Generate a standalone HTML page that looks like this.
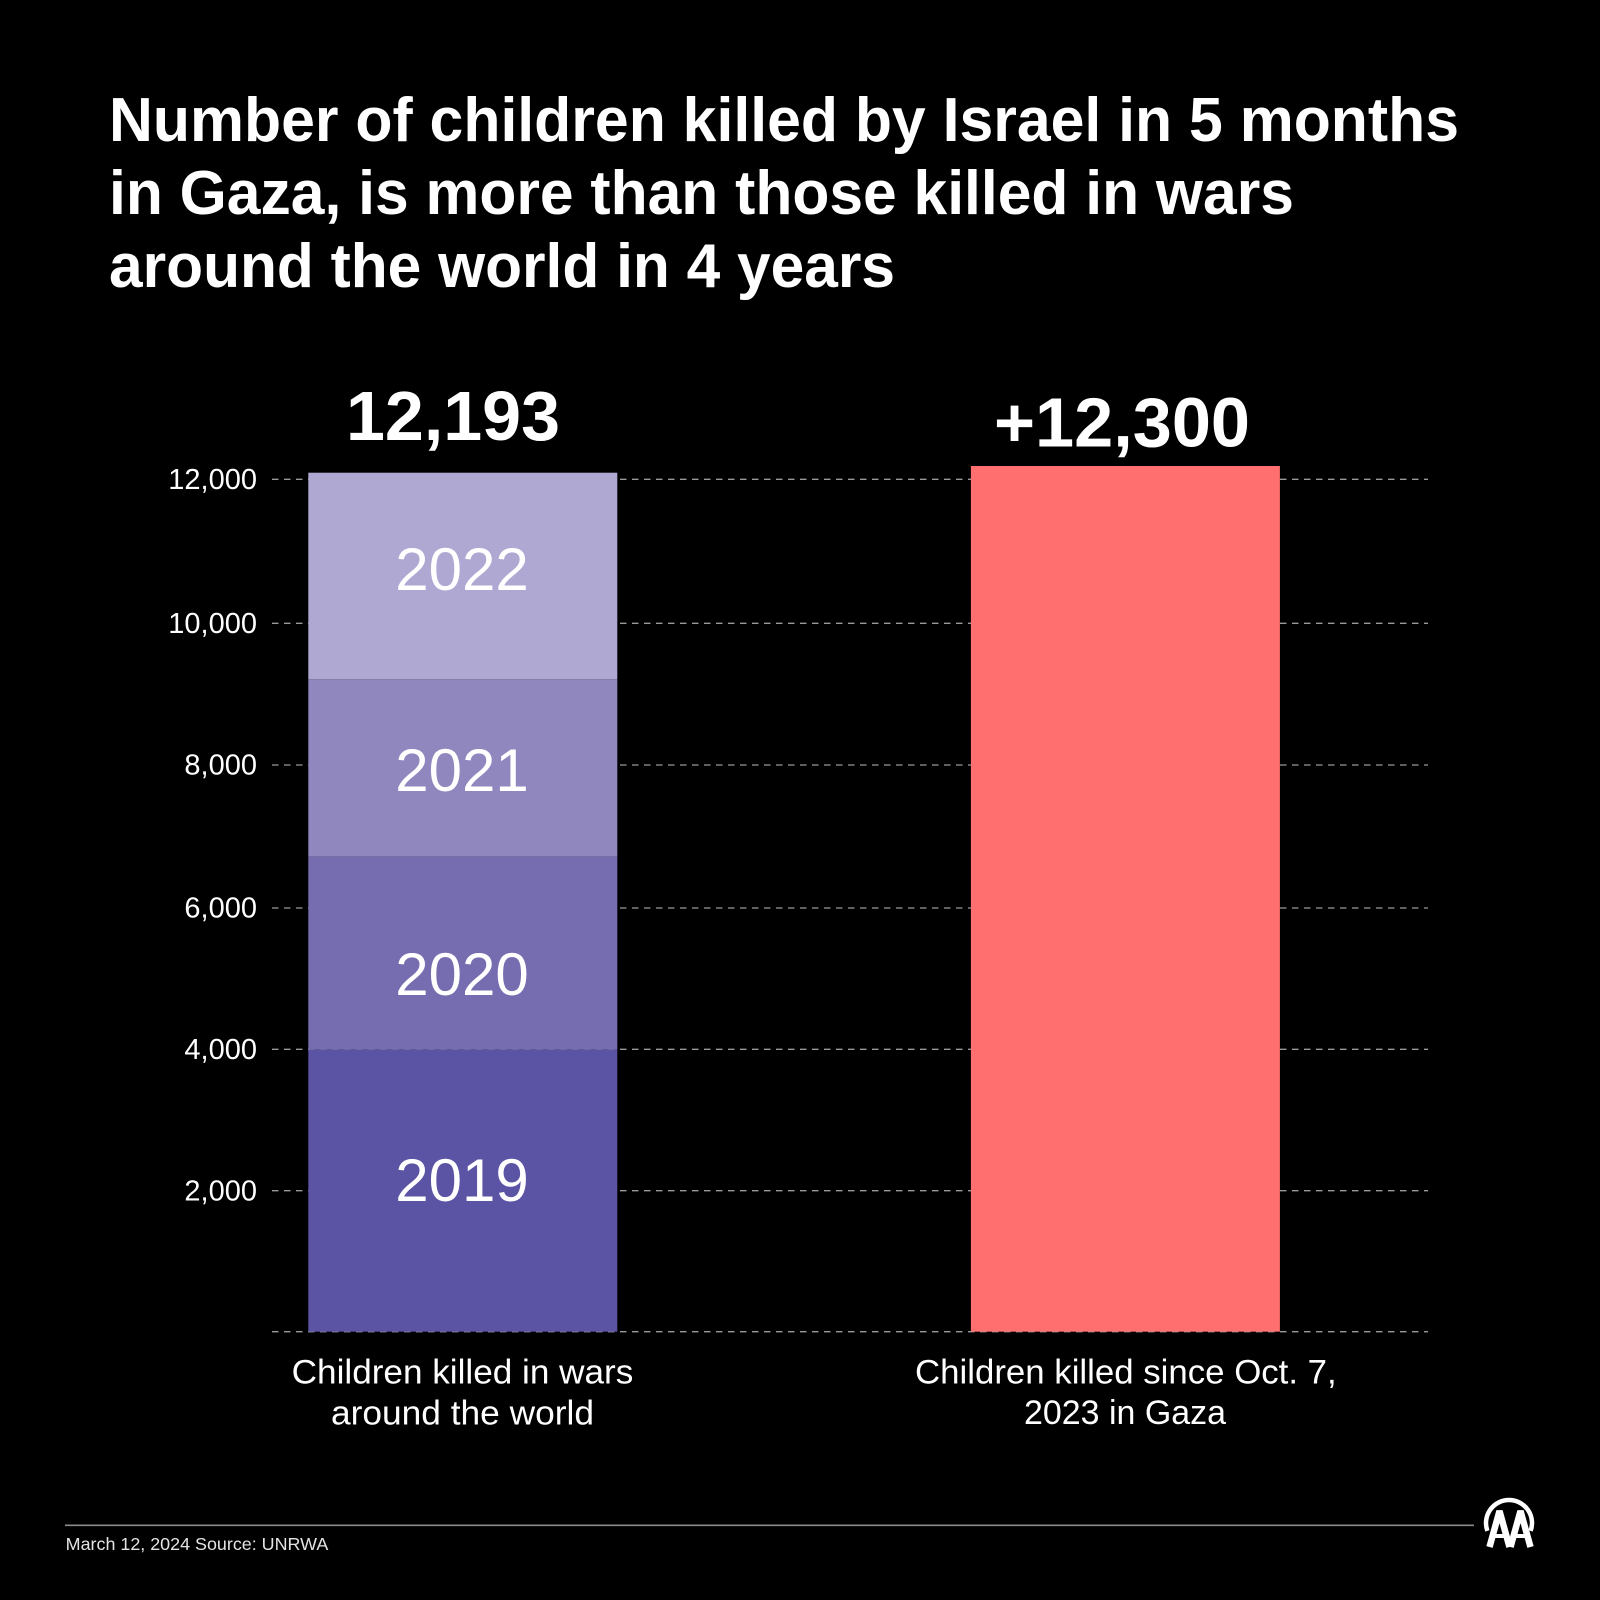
<!DOCTYPE html>
<html>
<head>
<meta charset="utf-8">
<style>
  html, body { margin:0; padding:0; background:#000; }
  body { width:1600px; height:1600px; overflow:hidden; }
  svg { display:block; }
  text { font-family: "Liberation Sans", Arial, sans-serif; }
</style>
</head>
<body>
<svg width="1600" height="1600" viewBox="0 0 1600 1600" xmlns="http://www.w3.org/2000/svg">
  <rect x="0" y="0" width="1600" height="1600" fill="#000"/>

  <!-- Title -->
  <g fill="#fff" font-weight="bold" font-size="62">
    <text x="109" y="141" textLength="1350" lengthAdjust="spacingAndGlyphs">Number of children killed by Israel in 5 months</text>
    <text x="109" y="214" textLength="1185" lengthAdjust="spacingAndGlyphs">in Gaza, is more than those killed in wars</text>
    <text x="109" y="287" textLength="786" lengthAdjust="spacingAndGlyphs">around the world in 4 years</text>
  </g>

  <!-- Gridlines -->
  <g stroke="#9a9a9a" stroke-width="1.3" stroke-dasharray="6.5 5.5" fill="none">
    <line x1="272" y1="479.3" x2="1428" y2="479.3"/>
    <line x1="272" y1="623.3" x2="1428" y2="623.3"/>
    <line x1="272" y1="765" x2="1428" y2="765"/>
    <line x1="272" y1="908" x2="1428" y2="908"/>
    <line x1="272" y1="1049.3" x2="1428" y2="1049.3"/>
    <line x1="272" y1="1190.7" x2="1428" y2="1190.7"/>
    <line x1="272" y1="1331.7" x2="1428" y2="1331.7"/>
  </g>

  <!-- Axis labels -->
  <g fill="#fff" font-size="29" text-anchor="end">
    <text x="257" y="489">12,000</text>
    <text x="257" y="633">10,000</text>
    <text x="257" y="774.5">8,000</text>
    <text x="257" y="917.5">6,000</text>
    <text x="257" y="1059">4,000</text>
    <text x="257" y="1200.5">2,000</text>
  </g>

  <!-- Left stacked bar -->
  <rect x="308.3" y="472.7" width="309" height="206.6" fill="#AFA8D2"/>
  <rect x="308.3" y="679.3" width="309" height="177.4" fill="#8F87BE"/>
  <rect x="308.3" y="856.7" width="309" height="193" fill="#766DB0"/>
  <rect x="308.3" y="1049.7" width="309" height="282" fill="#5B53A3"/>

  <!-- Right bar -->
  <rect x="970.9" y="466" width="309" height="865.7" fill="#FF6F6F"/>

  <!-- Year labels -->
  <g fill="#fff" font-size="60" text-anchor="middle">
    <text x="462" y="590">2022</text>
    <text x="462" y="791">2021</text>
    <text x="462" y="995">2020</text>
    <text x="462" y="1201">2019</text>
  </g>

  <!-- Values -->
  <g fill="#fff" font-weight="bold" font-size="70">
    <text x="346" y="440" textLength="214" lengthAdjust="spacingAndGlyphs">12,193</text>
    <text x="994" y="446.5" textLength="256" lengthAdjust="spacingAndGlyphs">+12,300</text>
  </g>

  <!-- Category labels -->
  <g fill="#fff" font-size="34">
    <text x="291.7" y="1383.3" textLength="341.6" lengthAdjust="spacingAndGlyphs">Children killed in wars</text>
    <text x="331" y="1424.5" textLength="263" lengthAdjust="spacingAndGlyphs">around the world</text>
    <text x="915" y="1383.3" textLength="421.7" lengthAdjust="spacingAndGlyphs">Children killed since Oct. 7,</text>
    <text x="1024" y="1424" textLength="202" lengthAdjust="spacingAndGlyphs">2023 in Gaza</text>
  </g>

  <!-- Footer -->
  <line x1="65" y1="1525.3" x2="1474" y2="1525.3" stroke="#8a8a8a" stroke-width="1.6"/>
  <text x="65.7" y="1550" fill="#e4e4e4" font-size="17.5" textLength="262.6" lengthAdjust="spacingAndGlyphs">March 12, 2024 Source: UNRWA</text>

  <!-- AA logo -->
  <g fill="none" stroke="#fff">
    <path d="M1487.4 1530.9 A23 23 0 1 1 1530.6 1530.9" stroke-width="4.5"/>
    <polyline points="1489.5,1547 1499.5,1511 1509.5,1547" stroke-width="6.5" stroke-linejoin="bevel"/>
    <polyline points="1510.5,1547 1520.5,1511 1530.5,1547" stroke-width="6.5" stroke-linejoin="bevel"/>
    <line x1="1494" y1="1536" x2="1505" y2="1536" stroke-width="4"/>
    <line x1="1515" y1="1536" x2="1526" y2="1536" stroke-width="4"/>
  </g>
</svg>
</body>
</html>
